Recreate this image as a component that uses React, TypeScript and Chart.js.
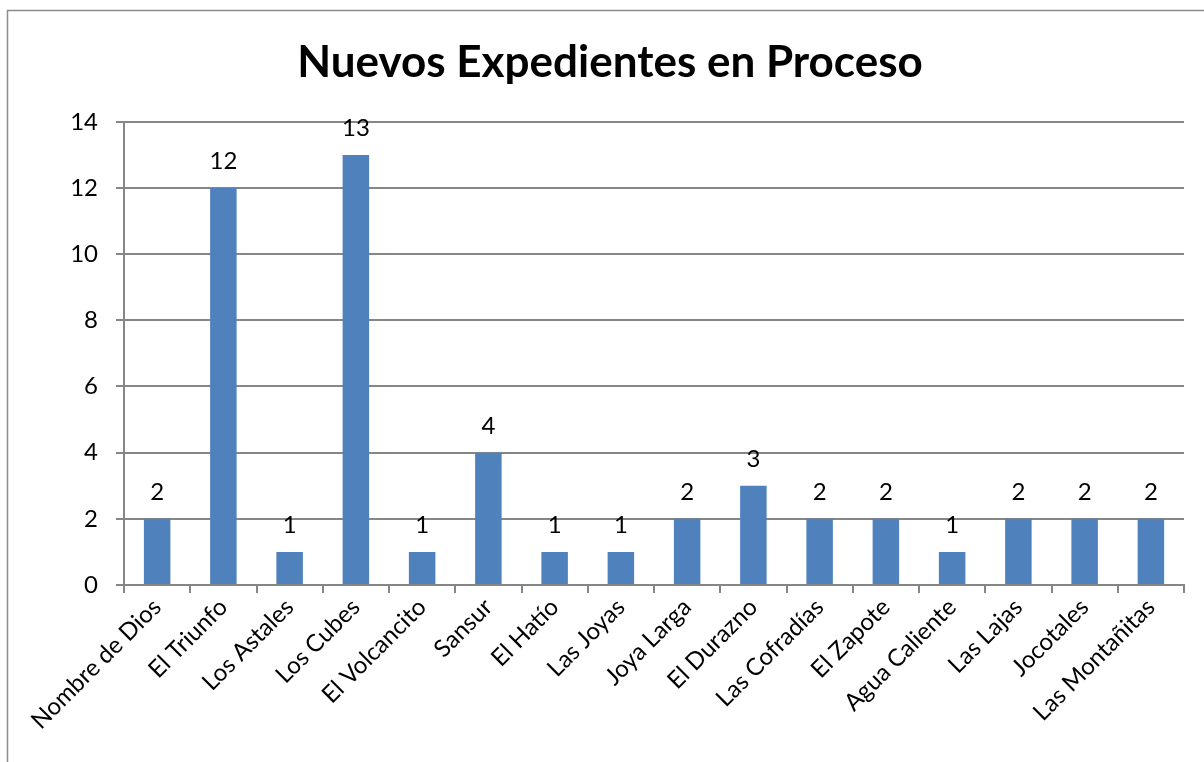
import React, { useEffect, useRef } from "react";
import { Chart, registerables } from "chart.js";

Chart.register(...registerables);

const categories = [
  "Nombre de Dios", "El Triunfo", "Los Astales", "Los Cubes", "El Volcancito",
  "Sansur", "El Hatío", "Las Joyas", "Joya Larga", "El Durazno",
  "Las Cofradías", "El Zapote", "Agua Caliente", "Las Lajas", "Jocotales",
  "Las Montañitas",
];
const values = [2, 12, 1, 13, 1, 4, 1, 1, 2, 3, 2, 2, 1, 2, 2, 2];
const titleText = "Nuevos Expedientes en Proceso";
const FONT = "Lato, 'Open Sans', sans-serif";

const frame = {
  id: "frame",
  beforeDraw(chart: any) {
    const ctx = chart.ctx;
    ctx.save();
    ctx.fillStyle = "#ffffff";
    ctx.fillRect(0, 0, chart.width, chart.height);
    ctx.strokeStyle = "#8c8c8c";
    ctx.lineWidth = 1.5;
    ctx.strokeRect(7.5, 10.5, chart.width + 20, chart.height + 20);
    ctx.restore();
  },
};

const valueLabels = {
  id: "valueLabels",
  afterDatasetsDraw(chart: any) {
    const ctx = chart.ctx;
    const meta = chart.getDatasetMeta(0);
    ctx.save();
    ctx.fillStyle = "#000000";
    ctx.font = `24px ${FONT}`;
    ctx.textAlign = "center";
    ctx.textBaseline = "alphabetic";
    meta.data.forEach((el: any, i: number) => {
      ctx.fillText(String(values[i]), el.x, el.y - 19);
    });
    ctx.restore();
  },
};

export default function App() {
  const ref = useRef<HTMLCanvasElement>(null);
  useEffect(() => {
    if (!ref.current) return;
    const chart = new Chart(ref.current, {
      type: "bar",
      data: {
        labels: categories,
        datasets: [
          {
            data: values,
            backgroundColor: "#4F81BD",
            borderWidth: 0,
            categoryPercentage: 1,
            barPercentage: 0.4,
            yAxisID: "y",
          },
        ],
      },
      options: {
        responsive: false,
        animation: false,
        layout: { padding: { left: 18, right: 2, top: 0, bottom: 0 } },
        plugins: {
          legend: { display: false },
          tooltip: { enabled: false },
          title: {
            display: true,
            text: titleText,
            color: "#000000",
            font: { family: FONT, size: 44, weight: "bold", lineHeight: 1.2 },
            padding: { top: 36, bottom: 33 },
          },
        },
        scales: {
          x: {
            offset: true,
            grid: {
              offset: true,
              drawOnChartArea: false,
              drawTicks: true,
              tickLength: 8,
              color: "#868686",
              lineWidth: 2,
            },
            border: { display: true, color: "#868686", width: 2 },
            ticks: {
              color: "#000000",
              font: { family: FONT, size: 24 },
              maxRotation: 45,
              minRotation: 45,
              autoSkip: false,
              padding: 0,
            },
            afterFit(scale: any) {
              scale.height = 762 - 585;
            },
          },
          y: {
            min: 0,
            max: 14,
            ticks: {
              stepSize: 2,
              color: "#000000",
              font: { family: FONT, size: 24 },
              padding: 18,
            },
            grid: {
              color: "#868686",
              lineWidth: 2,
              tickLength: 8,
            },
            border: { display: true, color: "#868686", width: 2 },
            afterFit(scale: any) {
              scale.width = 106;
            },
          },
          yRight: {
            position: "right",
            display: true,
            min: 0,
            max: 14,
            grid: { display: false, drawTicks: false },
            border: { display: false },
            ticks: { display: false },
            afterFit(scale: any) {
              scale.width = 18;
            },
          },
        },
      },
      plugins: [frame, valueLabels],
    } as any);
    return () => chart.destroy();
  }, []);
  return (
    <div style={{ position: "absolute", left: 0, top: 0, width: 1204, height: 762 }}>
      <canvas ref={ref} width={1204} height={762} style={{ display: "block" }} />
    </div>
  );
}
